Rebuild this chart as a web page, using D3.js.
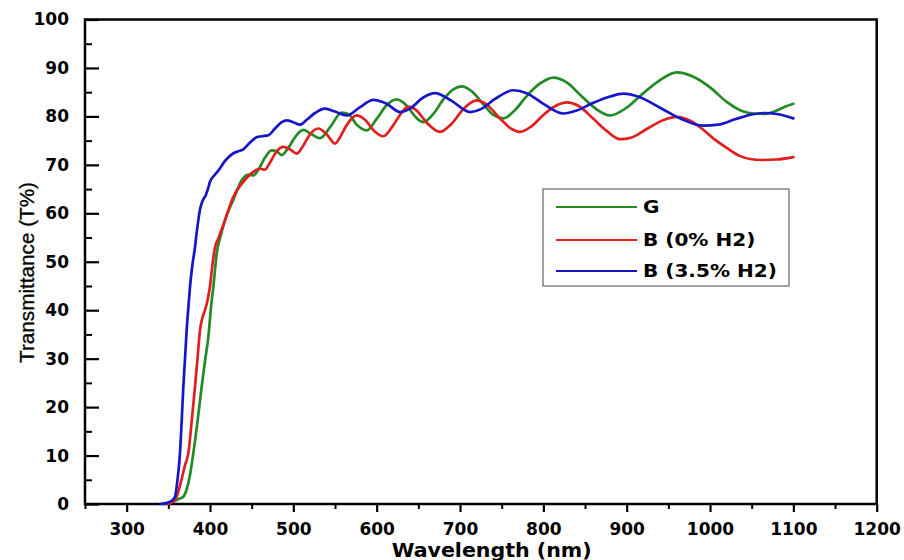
<!DOCTYPE html>
<html><head><meta charset="utf-8">
<script src="https://cdn.jsdelivr.net/npm/d3@7"></script>
<style>
html,body{margin:0;padding:0;background:#fff;}
svg{display:block;}
</style></head>
<body><svg id="chart" width="904" height="560"></svg>
<script>
// ---- data ----
const seriesNames = ["G", "B (0% H2)", "B (3.5% H2)"];
const xTickValues = [300,400,500,600,700,800,900,1000,1100,1200];
const yTickValues = [0,10,20,30,40,50,60,70,80,90,100];
const greenData = [[345,0],[355,0.5],[362,1],[368,1.5],[372,3],[376,6],[380,10.5],[385,17],[390,24.2],[394,29.5],[398,34.5],[402,42],[404,44.8],[408,51.7],[413,55.5],[418,58.6],[428,62.8],[438,66.8],[446,68],[452,67.8],[458,69],[466,71.5],[474,73],[480,72.8],[486,72],[494,73.5],[502,75.7],[512,77.2],[522,76.3],[532,75.5],[545,78],[558,80.8],[566,80.5],[576,78.3],[588,77.1],[600,79.5],[612,82.3],[624,83.5],[636,82.2],[646,80],[656,78.8],[668,80.5],[680,83.5],[692,85.6],[702,86.2],[714,85.2],[728,82.5],[740,80.3],[752,79.6],[766,81.3],[780,84.2],[796,86.8],[812,88],[828,87],[845,84.3],[862,81.7],[880,80.2],[900,81.8],[920,84.8],[940,87.5],[960,89.1],[980,88.2],[1000,86],[1020,83],[1040,81],[1052,80.6],[1065,80.5],[1080,81.2],[1090,82],[1100,82.6]];
const redData = [[350,0],[356,0.5],[360,1.5],[365,4.5],[370,8],[374,10.5],[378,17],[382,24.2],[385,30],[388,35.9],[391,38.5],[394,40],[397,42],[400,45],[403,49.5],[406,53],[410,54.8],[418,58.6],[428,63.4],[440,66.5],[450,68.3],[460,69.2],[466,69],[472,70.5],[480,72.8],[488,73.7],[496,73.2],[504,72.3],[512,74],[520,76.3],[530,77.5],[540,76.3],[550,74.4],[556,75.7],[564,78.2],[576,80.2],[586,79.3],[597,77],[608,75.9],[620,78.2],[630,80.8],[638,82],[648,81.2],[660,78.7],[676,76.8],[690,78.5],[705,81.7],[720,83.3],[733,82.3],[750,79.2],[762,77.4],[772,76.8],[786,78],[800,80.3],[815,82.2],[828,82.9],[842,82.2],[860,79.5],[876,77],[892,75.3],[905,75.6],[925,77.5],[945,79.3],[960,79.9],[975,79.2],[990,77.5],[1005,75.3],[1020,73.5],[1035,71.9],[1048,71.2],[1062,71],[1080,71.1],[1100,71.6]];
const blueData = [[340,0],[350,0.3],[355,0.8],[358,1.5],[361,5],[364,10.5],[366,17],[368,24.2],[370,30],[372,35.9],[374,40.5],[376,44.8],[379,49.5],[382,53],[384,56],[386,58.6],[388,60.8],[391,62.5],[395,63.8],[398,65.3],[400,66.5],[405,67.8],[410,68.8],[418,70.8],[428,72.4],[434,72.8],[440,73.2],[448,74.6],[456,75.7],[462,75.9],[470,76.1],[478,77.5],[486,78.8],[492,79.2],[500,78.8],[508,78.3],[516,79.3],[526,80.7],[538,81.6],[550,81],[564,80.2],[580,81.9],[596,83.4],[612,82.6],[628,80.9],[640,81.6],[655,83.8],[670,84.8],[690,83.2],[712,80.9],[725,81.5],[742,83.6],[764,85.4],[780,84.8],[800,82.6],[824,80.6],[840,81.2],[860,82.8],[880,84.1],[896,84.7],[915,84],[940,81.8],[965,79.5],[992,78.1],[1010,78.3],[1030,79.4],[1050,80.4],[1065,80.7],[1080,80.5],[1100,79.6]];

// ---- styles / layout ----
const colors = ["#238b23", "#e11f1f", "#1616c8"];
const seriesData = [greenData, redData, blueData];
const L = 85, R = 876.7, T = 19.5, B = 504;

const svg = d3.select("#chart");
const x = d3.scaleLinear().domain([250, 1200]).range([L, R]);
const y = d3.scaleLinear().domain([0, 100]).range([B, T]);

const tickFont = "'DejaVu Sans', sans-serif";

// minor ticks
svg.append("g").attr("transform", `translate(0,${B})`)
  .call(d3.axisBottom(x).tickValues(d3.range(250, 1200, 50).filter(v => v % 100 !== 0)).tickSize(5).tickFormat(""))
  .call(g => g.select(".domain").remove())
  .call(g => g.selectAll("line").attr("stroke", "#000").attr("stroke-width", 2));
svg.append("g").attr("transform", `translate(${L},0)`)
  .call(d3.axisLeft(y).tickValues(d3.range(5, 100, 10)).tickSize(-7).tickFormat(""))
  .call(g => g.select(".domain").remove())
  .call(g => g.selectAll("line").attr("stroke", "#000").attr("stroke-width", 2));

// major x axis
svg.append("g").attr("transform", `translate(0,${B})`)
  .call(d3.axisBottom(x).tickValues(xTickValues).tickSize(8).tickPadding(11).tickFormat(d3.format("d")))
  .call(g => g.select(".domain").remove())
  .call(g => g.selectAll("line").attr("stroke", "#000").attr("stroke-width", 2.2))
  .call(g => g.selectAll("text").attr("fill", "#000").style("font-family", tickFont)
      .style("font-weight", "bold").style("font-size", "17px"));

// major y axis (inward ticks)
svg.append("g").attr("transform", `translate(${L},0)`)
  .call(d3.axisLeft(y).tickValues(yTickValues).tickSize(-14).tickPadding(16).tickFormat(d3.format("d")))
  .call(g => g.select(".domain").remove())
  .call(g => g.selectAll("line").attr("stroke", "#000").attr("stroke-width", 2.2))
  .call(g => g.selectAll("text").attr("fill", "#000").style("font-family", tickFont)
      .style("font-weight", "bold").style("font-size", "17px"));

// frame
svg.append("rect").attr("x", L).attr("y", T).attr("width", R - L).attr("height", B - T)
  .attr("fill", "none").attr("stroke", "#000").attr("stroke-width", 2.5);

// curves
const line = d3.line().x(d => x(d[0])).y(d => y(d[1])).curve(d3.curveMonotoneX);
seriesData.forEach((data, i) => {
  svg.append("path").datum(data).attr("d", line)
    .attr("fill", "none").attr("stroke", colors[i]).attr("stroke-width", 2.7)
    .attr("stroke-linejoin", "round").attr("stroke-linecap", "round");
});

// legend
const lg = svg.append("g");
lg.append("rect").attr("x", 543).attr("y", 189).attr("width", 246).attr("height", 97)
  .attr("fill", "#fff").attr("stroke", "#666").attr("stroke-width", 1.2);
const rowY = [207, 240, 271];
seriesNames.forEach((name, i) => {
  lg.append("line").attr("x1", 556).attr("x2", 637).attr("y1", rowY[i]).attr("y2", rowY[i])
    .attr("stroke", colors[i]).attr("stroke-width", 2.2);
  lg.append("text").attr("transform", `translate(643,${rowY[i]}) scale(1.18,1)`)
    .attr("dy", "0.36em").text(name)
    .style("font-family", tickFont).style("font-weight", "bold").style("font-size", "17px").attr("fill", "#000");
});

// axis titles
svg.append("text").attr("x", 491.7).attr("y", 557).attr("text-anchor", "middle")
  .attr("textLength", 200).attr("lengthAdjust", "spacingAndGlyphs")
  .style("font-family", tickFont).style("font-weight", "bold").style("font-size", "19px")
  .text("Wavelength (nm)");
svg.append("text").attr("transform", "translate(34,272.5) rotate(-90)").attr("text-anchor", "middle")
  .attr("textLength", 181).attr("lengthAdjust", "spacingAndGlyphs")
  .style("font-family", "'Liberation Sans', Arial, sans-serif").style("font-size", "20px")
  .style("stroke", "#000").style("stroke-width", 0.3)
  .text("Transmittance (T%)");
</script>
</body></html>
